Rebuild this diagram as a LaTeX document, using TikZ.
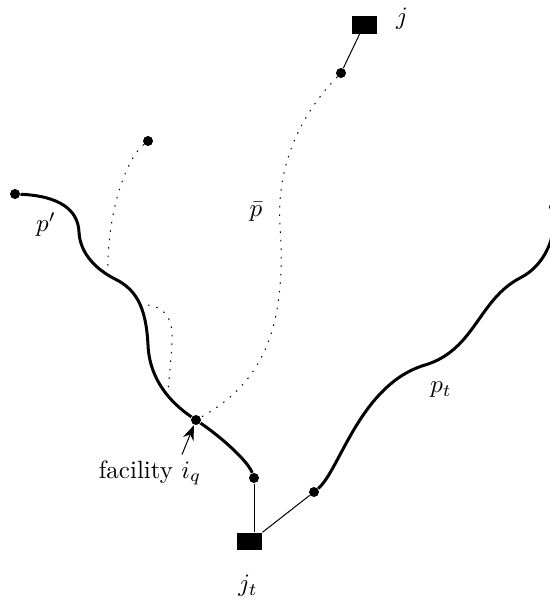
\documentclass[tikz,border=0pt]{standalone}
\usepackage{amsmath,amssymb}
\usepackage{tikz}
\usetikzlibrary{arrows.meta, positioning}

\begin{document}
\begin{tikzpicture}[
    x=0.4pt, y=-0.4pt,
    vertex/.style={circle, fill=black, inner sep=0pt, minimum size=4pt},
    client/.style={rectangle, fill=black, inner sep=0pt, minimum width=10pt, minimum height=7pt},
    route/.style={line width=1.2pt},
    altroute/.style={line width=0.4pt, dash pattern=on 0.6pt off 2.8pt},
    link/.style={line width=0.4pt},
    pointer/.style={-{Stealth[length=6pt, width=4.5pt]}, line width=0.4pt},
    lbl/.style={inner sep=1pt, font=\normalsize}
]
\useasboundingbox (0,0) rectangle (550,600);

% Clients
\node[client] (j) at (364.5,25) {};
\node[client] (jt) at (249.5,541.5) {};
\node[lbl] (jlab) at (402,19) {$j$};
\node[lbl] (jtlab) at (248,586) {$j_t$};

% Path endpoints and facility
\node[vertex] (pstart) at (15,194) {};
\node[vertex] (fac) at (196,420) {};
\node[vertex] (pend) at (254,478) {};
\node[vertex] (tend) at (314,492) {};
\node[vertex] (tstart) at (554,207) {};
\node[vertex] (bstart) at (341,73) {};
\node[vertex] (qstart) at (148,141) {};

% Meeting points of the dotted paths
\coordinate (m1) at (108,272);
\coordinate (m2) at (148,305);
\coordinate (m3) at (168,391);

% Path p'
\draw[route] (pstart) .. controls (60,196) and (78,210) .. (79,232)
    .. controls (80,254) and (97,270) .. (115,279)
    .. controls (135,289) and (146,305) .. (148,345)
    .. controls (149.5,380) and (171,403) .. (fac)
    .. controls (221,437) and (248,461) .. (pend);

% Path p_t
\draw[route] (tend) .. controls (340,470) and (360,384.5) .. (425,365)
    .. controls (475,350) and (478,300) .. (520,278)
    .. controls (545,265.5) and (556,237) .. (tstart);

% Path \bar p and the other dotted paths
\draw[altroute] (bstart) .. controls (305,110) and (276,160) .. (280,225)
    .. controls (287,330) and (262,383) .. (fac);
\draw[altroute] (qstart) .. controls (125,160) and (107,215) .. (m1);
\draw[altroute] (m2) .. controls (165,308) and (173,318) .. (172,340)
    .. controls (171,362) and (169,380) .. (m3);

% Links to clients
\draw[link] (pend) -- (pend |- jt.north);
\draw[link] (tend) -- (jt.north east);
\draw[link] (bstart) -- ([xshift=-2pt]j.south);

% Labels
\node[lbl] (pplab) at (46,225) {$p'$};
\node[lbl] (pblab) at (256,212) {$\bar{p}$};
\node[lbl] (ptlab) at (441,390) {$p_t$};
\node[lbl] (faclab) at (150,473) {facility $i_q$};
\draw[pointer] (faclab.north) ++(32,-3) coordinate (ptail) -- (fac);

\end{tikzpicture}
\end{document}
